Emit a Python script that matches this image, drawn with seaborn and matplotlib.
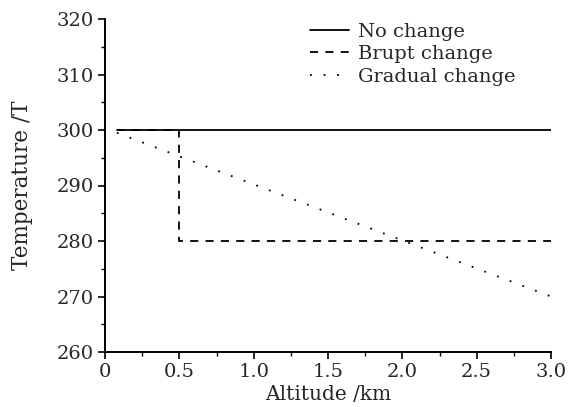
import matplotlib
matplotlib.use("Agg")
import matplotlib.pyplot as plt
import seaborn as sns
import pandas as pd
from matplotlib.ticker import MultipleLocator

sns.set_theme(style="ticks")
plt.rcParams['font.family'] = ['DejaVu Serif']

series_names = ["No change", "Brupt change", "Gradual change"]
no_change_x = [0.08, 3.0]
no_change_y = [300, 300]
brupt_x = [0.08, 0.5, 0.5, 3.0]
brupt_y = [300, 300, 280, 280]
gradual_x = [0.08, 3.0]
gradual_y = [299.5, 270]

xs = [no_change_x, brupt_x, gradual_x]
ys = [no_change_y, brupt_y, gradual_y]
styles = ["-", (0, (4.5, 4)), (0, (1, 6.5))]

fig = plt.figure(figsize=(5.68, 4.07), dpi=100)
ax = fig.add_axes([105/568, 1-352/407, (551-105)/568, (352-19)/407])

for name, x, y, ls in zip(series_names, xs, ys, styles):
    df = pd.DataFrame({"x": x, "y": y})
    sns.lineplot(data=df, x="x", y="y", ax=ax, color="black", linewidth=1.3,
                 linestyle=ls, sort=False, estimator=None, label=name)

ax.set_xlim(0, 3.0)
ax.set_ylim(260, 320)
ax.xaxis.set_minor_locator(MultipleLocator(0.25))
ax.yaxis.set_major_locator(MultipleLocator(10))
ax.yaxis.set_minor_locator(MultipleLocator(5))
ax.set_xticks([0, 0.5, 1.0, 1.5, 2.0, 2.5, 3.0])
ax.set_xticklabels(["0", "0.5", "1.0", "1.5", "2.0", "2.5", "3.0"])
ax.tick_params(which="major", direction="out", length=5, width=1.2, labelsize=14, color="black", pad=3)
ax.tick_params(which="minor", direction="out", length=3, width=1.0, color="black")
for side in ["top", "right"]:
    ax.spines[side].set_visible(False)
for side in ["left", "bottom"]:
    ax.spines[side].set_color("black")
    ax.spines[side].set_linewidth(1.4)

ax.set_xlabel("Altitude /km", fontsize=14.5, labelpad=3)
ax.set_ylabel("Temperature /T", fontsize=15.5, labelpad=17)

leg = ax.legend(loc="upper left", bbox_to_anchor=(310/568, 1-23/407), bbox_transform=fig.transFigure,
                frameon=False, fontsize=14, handlelength=2.0, handletextpad=0.45,
                labelspacing=0.22, borderpad=0.0, borderaxespad=0.0)

fig.savefig("out.png", dpi=100)
